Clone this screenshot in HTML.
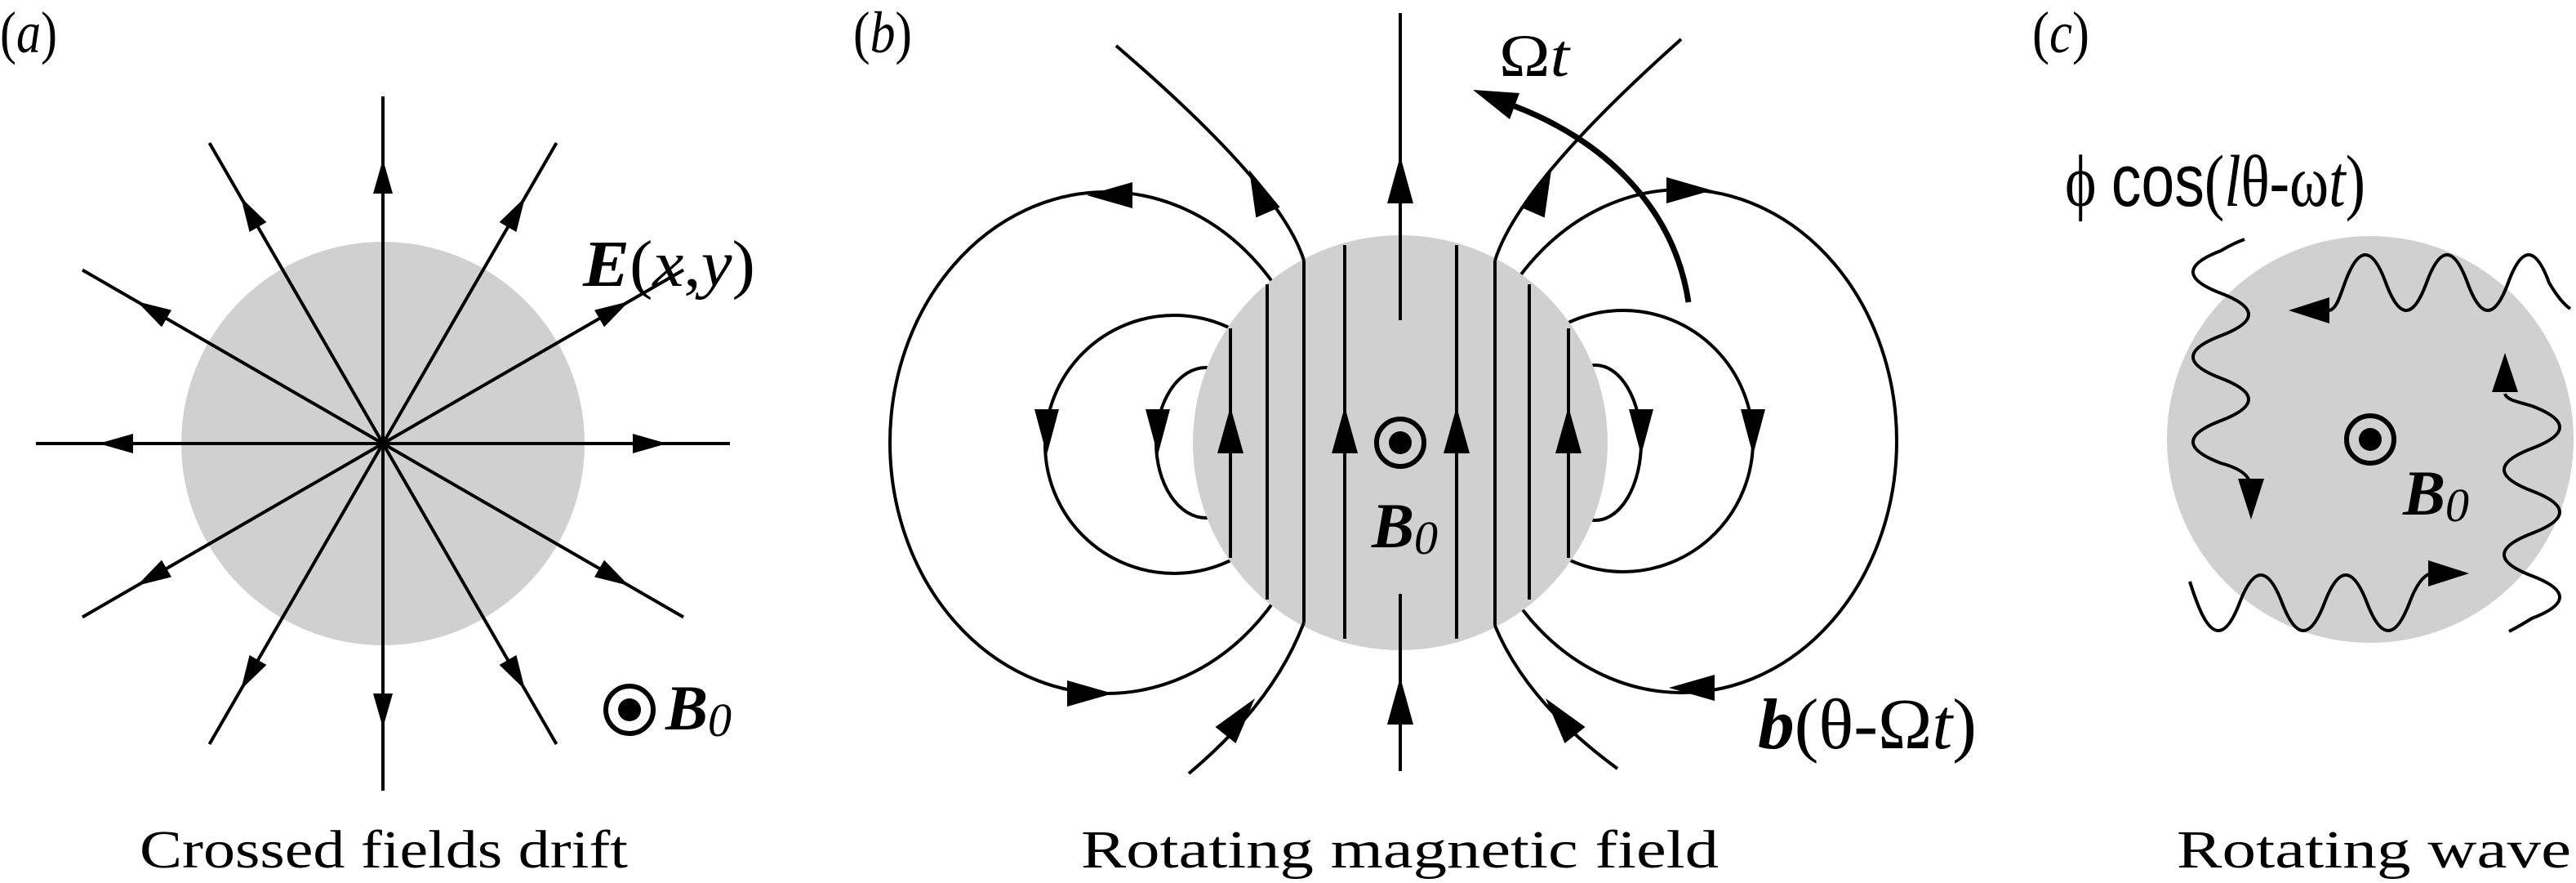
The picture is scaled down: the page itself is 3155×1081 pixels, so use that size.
<!DOCTYPE html>
<html><head><meta charset="utf-8"><style>
html,body{margin:0;padding:0;background:#fff}
svg{display:block}
text{font-family:"Liberation Serif",serif;fill:#000}
</style></head><body>
<svg width="3155" height="1081" viewBox="0 0 3155 1081" xmlns="http://www.w3.org/2000/svg">
<!-- Panel a -->
<circle cx="469" cy="543" r="247" fill="#d0d0d0"/>
<g stroke="#000" stroke-width="4" fill="none">
<g transform="translate(469,543)">
<line x1="0" y1="0" x2="425" y2="0" transform="rotate(0)"/>
<line x1="0" y1="0" x2="425" y2="0" transform="rotate(30)"/>
<line x1="0" y1="0" x2="425" y2="0" transform="rotate(60)"/>
<line x1="0" y1="0" x2="425" y2="0" transform="rotate(90)"/>
<line x1="0" y1="0" x2="425" y2="0" transform="rotate(120)"/>
<line x1="0" y1="0" x2="425" y2="0" transform="rotate(150)"/>
<line x1="0" y1="0" x2="425" y2="0" transform="rotate(180)"/>
<line x1="0" y1="0" x2="425" y2="0" transform="rotate(210)"/>
<line x1="0" y1="0" x2="425" y2="0" transform="rotate(240)"/>
<line x1="0" y1="0" x2="425" y2="0" transform="rotate(270)"/>
<line x1="0" y1="0" x2="425" y2="0" transform="rotate(300)"/>
<line x1="0" y1="0" x2="425" y2="0" transform="rotate(330)"/>
</g></g>
<g fill="#000" transform="translate(469,543)">
<polygon points="348,0 306,-12 306,12" transform="rotate(0)"/>
<polygon points="348,0 306,-12 306,12" transform="rotate(30)"/>
<polygon points="348,0 306,-12 306,12" transform="rotate(60)"/>
<polygon points="348,0 306,-12 306,12" transform="rotate(90)"/>
<polygon points="348,0 306,-12 306,12" transform="rotate(120)"/>
<polygon points="348,0 306,-12 306,12" transform="rotate(150)"/>
<polygon points="348,0 306,-12 306,12" transform="rotate(180)"/>
<polygon points="348,0 306,-12 306,12" transform="rotate(210)"/>
<polygon points="348,0 306,-12 306,12" transform="rotate(240)"/>
<polygon points="348,0 306,-12 306,12" transform="rotate(270)"/>
<polygon points="348,0 306,-12 306,12" transform="rotate(300)"/>
<polygon points="348,0 306,-12 306,12" transform="rotate(330)"/>
</g>
<text x="0" y="64" font-size="72" textLength="70" lengthAdjust="spacingAndGlyphs">(<tspan font-style="italic">a</tspan>)</text>
<text x="714" y="350" font-size="80" textLength="211" lengthAdjust="spacingAndGlyphs"><tspan font-weight="bold" font-style="italic">E</tspan>(<tspan font-style="italic">x</tspan>,<tspan font-style="italic">y</tspan>)</text>
<circle cx="771" cy="869" r="29" fill="none" stroke="#000" stroke-width="6"/>
<circle cx="771" cy="869" r="14" fill="#000"/>
<text x="815" y="893" font-size="78"><tspan font-weight="bold" font-style="italic">B</tspan><tspan font-style="italic" font-size="58" dy="8">0</tspan></text>
<text x="171" y="1062" font-size="66" textLength="598" lengthAdjust="spacingAndGlyphs">Crossed fields drift</text>

<!-- Panel b -->
<g stroke="#000" stroke-width="4" fill="none">
<ellipse cx="1477" cy="542" rx="61" ry="92"/>
<ellipse cx="1438" cy="544" rx="158" ry="158"/>
<ellipse cx="1355" cy="542" rx="265" ry="307"/>
<ellipse cx="1954" cy="542" rx="56" ry="95"/>
<ellipse cx="1988" cy="540" rx="159" ry="160"/>
<ellipse cx="2060" cy="540" rx="263" ry="308"/>
</g>
<circle cx="1715" cy="542" r="254" fill="#d0d0d0"/>
<g stroke="#000" stroke-width="4" fill="none">
<line x1="1507" y1="402" x2="1507" y2="683"/>
<line x1="1552" y1="348" x2="1552" y2="734"/>
<line x1="1597" y1="319" x2="1597" y2="762"/>
<line x1="1647" y1="300" x2="1647" y2="782"/>
<line x1="1715" y1="16" x2="1715" y2="392"/>
<line x1="1715" y1="727" x2="1715" y2="944"/>
<line x1="1784" y1="300" x2="1784" y2="782"/>
<line x1="1831" y1="319" x2="1831" y2="766"/>
<line x1="1873" y1="348" x2="1873" y2="734"/>
<line x1="1921" y1="402" x2="1921" y2="683"/>
<path d="M1597,319 Q1570,230 1367,56"/>
<path d="M1831,319 Q1860,225 2059,48"/>
<path d="M1597,762 Q1560,860 1456,947"/>
<path d="M1831,766 Q1870,860 1981,941"/>
<path d="M2068,370 C2050,250 1960,170 1855,130" stroke-width="7"/>
</g>
<g fill="#000">
<polygon points="1507,498 1491,555 1523,555"/>
<polygon points="1647,498 1631,555 1663,555"/>
<polygon points="1784,498 1768,555 1800,555"/>
<polygon points="1921,498 1905,555 1937,555"/>
<polygon points="1715,191 1699,249 1731,249"/>
<polygon points="1715,829 1699,887 1731,887"/>
<polygon points="1418,557 1403,501 1433,501"/>
<polygon points="1282,557 1267,501 1297,501"/>
<polygon points="2147,557 2132,501 2162,501"/>
<polygon points="2010,557 1995,501 2025,501"/>
<polygon points="1331,239 1387,223 1387,255"/>
<polygon points="1363,849 1307,833 1307,865"/>
<polygon points="2097,233 2041,217 2041,249"/>
<polygon points="2044,842 2100,826 2100,858"/>
<polygon points="1530,208 1567.7,253.6 1538.3,266.4"/>
<polygon points="1900,208 1862.3,253.6 1891.7,266.4"/>
<polygon points="1537,855 1488.5,890 1513.5,910"/>
<polygon points="1893,855 1941.5,890 1916.5,910"/>
<polygon points="1804,110 1861,114 1849,146"/>
</g>
<circle cx="1715" cy="542" r="29" fill="none" stroke="#000" stroke-width="6"/>
<circle cx="1715" cy="542" r="14" fill="#000"/>
<text x="1680" y="670" font-size="78"><tspan font-weight="bold" font-style="italic">B</tspan><tspan font-style="italic" font-size="58" dy="8">0</tspan></text>
<text x="1836" y="93" font-size="74" textLength="86" lengthAdjust="spacingAndGlyphs">Ω<tspan font-style="italic">t</tspan></text>
<text x="2153" y="916" font-size="88" textLength="268" lengthAdjust="spacingAndGlyphs"><tspan font-weight="bold" font-style="italic">b</tspan>(θ-Ω<tspan font-style="italic">t</tspan>)</text>
<text x="1045" y="64" font-size="72" textLength="72" lengthAdjust="spacingAndGlyphs">(<tspan font-style="italic">b</tspan>)</text>
<text x="1324" y="1062" font-size="66" textLength="781" lengthAdjust="spacingAndGlyphs">Rotating magnetic field</text>

<!-- Panel c -->
<circle cx="2903" cy="538" r="249" fill="#d0d0d0"/>
<g stroke="#000" stroke-width="4" fill="none">
<path d="M2749,293 Q2735,298 2720,307 q-68,26 0,52 t0,52 t0,52 t0,52 t0,52 q30,8 35,22"/>
<path d="M2853,380 C2862,378 2866,362 2872,346 q25,-68 50,0 t50,0 t50,0 t50,0 t50,0 Q3136,370 3148,378"/>
<path d="M2682,712 Q2686,725 2691,738 q26,68 52,0 t52,0 t52,0 t52,0 t52,0 q12,-32 26,-36"/>
<path d="M3068,482 C3070,490 3085,492 3101,497 q68,26 0,52 t0,52 t0,52 t0,52 t0,52 Q3085,767 3073,773"/>
</g>
<g fill="#000">
<polygon points="2757,636 2741,586 2773,586"/>
<polygon points="2803,380 2853,364 2853,396"/>
<polygon points="3024,702 2974,686 2974,718"/>
<polygon points="3068,432 3052,480 3084,480"/>
</g>
<circle cx="2903" cy="538" r="29" fill="none" stroke="#000" stroke-width="6"/>
<circle cx="2903" cy="538" r="14" fill="#000"/>
<text x="2943" y="630" font-size="78"><tspan font-weight="bold" font-style="italic">B</tspan><tspan font-style="italic" font-size="58" dy="8">0</tspan></text>
<text x="2529" y="252" font-size="90" textLength="368" lengthAdjust="spacingAndGlyphs">ϕ <tspan font-family="Liberation Sans, sans-serif">cos</tspan>(<tspan font-style="italic">l</tspan>θ-ω<tspan font-style="italic">t</tspan>)</text>
<text x="2489" y="64" font-size="72" textLength="70" lengthAdjust="spacingAndGlyphs">(<tspan font-style="italic">c</tspan>)</text>
<text x="2666" y="1062" font-size="66" textLength="483" lengthAdjust="spacingAndGlyphs">Rotating wave</text>
</svg>
</body></html>
